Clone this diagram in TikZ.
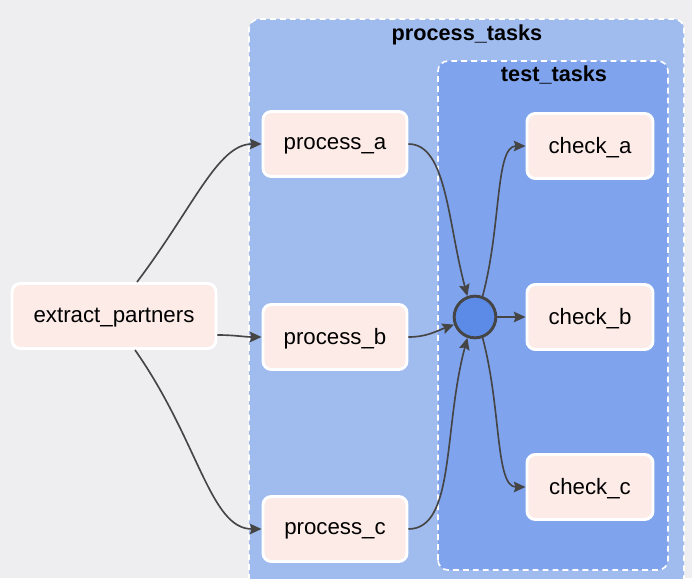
\documentclass[tikz,border=0pt]{standalone}
\usepackage{fontspec}
\setmainfont{Liberation Sans}
\usepackage{xcolor}
\usetikzlibrary{arrows.meta,positioning}
\definecolor{dgfond}{HTML}{EEEEF1}
\definecolor{dgbleu}{HTML}{A0BBEE}
\definecolor{dgbleufonce}{HTML}{7FA3EC}
\definecolor{dgrose}{HTML}{FDEBE7}
\definecolor{dgrond}{HTML}{5B8BE7}
\definecolor{dgtrait}{HTML}{454545}

\begin{document}
\begin{tikzpicture}[x=0.03cm, y=0.03cm, every node/.style={font=\fontsize{19}{22}\selectfont},
  tache/.style={draw=white, line width=2.5pt, fill=dgrose, rounded corners=0.25cm, minimum height=1.95cm, text depth=0.5pt},
  groupe/.style={draw=white, line width=1.4pt, dash pattern=on 5pt off 3.5pt, rounded corners=0.3cm},
  lien/.style={draw=dgtrait, line width=1.4pt, -{Stealth[length=10pt,width=9pt,inset=1.5pt]}}]
  \clip (0,0) rectangle (692,578);
  \fill[dgfond] (0,0) rectangle (692,578);
  % groupes
  \filldraw[groupe, fill=dgbleu] (249,-22) rectangle (684,559);
  \node[font=\fontsize{18.5}{22}\selectfont\bfseries] (tprocess) at (467,543) {process\_tasks};
  \filldraw[groupe, fill=dgbleufonce] (438,8) rectangle (668,517);
  \node[font=\fontsize{18.5}{22}\selectfont\bfseries] (ttest) at (554,503) {test\_tasks};
  % taches
  \node[tache, minimum width=6.12cm] (ep) at (114,262) {extract\_partners};
  \node[tache, minimum width=4.32cm] (pa) at (335,434) {process\_a};
  \node[tache, minimum width=4.32cm] (pb) at (335,241) {process\_b};
  \node[tache, minimum width=4.32cm] (pc) at (335,49) {process\_c};
  \node[tache, minimum width=3.78cm] (ca) at (590,432) {check\_a};
  \node[tache, minimum width=3.78cm] (cb) at (590,261) {check\_b};
  \node[tache, minimum width=3.78cm] (cc) at (590,91) {check\_c};
  % jonction
  \node[circle, minimum size=1.25cm, inner sep=0pt, fill=dgrond, draw=dgtrait, line width=2.5pt] (j) at (475,261) {};
  % liens
  \draw[lien] ([xshift=0.69cm]ep.north) to[out=53,in=180,out looseness=1.3,in looseness=0.6] (pa.west);
  \draw[lien] ([yshift=-0.57cm]ep.east) to[out=0,in=180] (pb.west);
  \draw[lien] ([xshift=0.63cm]ep.south) to[out=-55,in=180,out looseness=1.3,in looseness=0.6] (pc.west);
  \draw[lien] (pa.east) to[out=0,in=105,out looseness=0.6,in looseness=1.2] (j.110);
  \draw[lien] (pb.east) to[out=0,in=200] (j.200);
  \draw[lien] (pc.east) to[out=0,in=-105,out looseness=0.6,in looseness=1.2] (j.250);
  \draw[lien] (j.70) to[out=75,in=180,out looseness=1.2,in looseness=0.5] (ca.west);
  \draw[lien] (j.east) -- (cb.west);
  \draw[lien] (j.290) to[out=-75,in=180,out looseness=1.2,in looseness=0.5] (cc.west);
\end{tikzpicture}
\end{document}
